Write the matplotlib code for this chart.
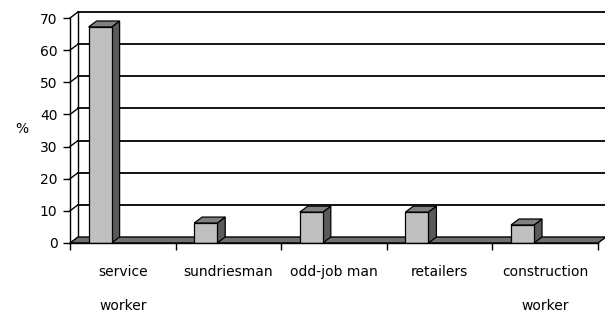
import matplotlib
matplotlib.use('Agg')
import matplotlib.pyplot as plt
from matplotlib.patches import Polygon
import numpy as np

categories = ['service\nworker', 'sundriesman', 'odd-job man', 'retailers', 'construction\nworker']
values = [67.2, 6.2, 9.6, 9.6, 5.6]
yticks = [0, 10, 20, 30, 40, 50, 60, 70]

plt.rcParams['font.family'] = 'DejaVu Sans'
plt.rcParams['font.size'] = 10

fig = plt.figure(figsize=(6.05, 3.13), dpi=100)
# axes = front plane of the 3d box
ax = fig.add_axes([70 / 605, 70 / 313, 528 / 605, 225 / 313])
n = len(categories)
x = np.arange(n)
ax.set_xlim(-0.5, n - 0.5)
ax.set_ylim(0, 70)

# depth offset (8 px right, 6 px up) in data units
p0 = ax.transData.transform((0, 0))
dx, dy = ax.transData.inverted().transform(p0 + np.array([8, 6]))

# back wall gridlines + side wall diagonals
for v in yticks[1:]:
    ax.plot([-0.5 + dx, n - 0.5 + dx], [v + dy, v + dy], c='k', lw=1.3, zorder=1, clip_on=False)
    ax.plot([-0.5, -0.5 + dx], [v, v + dy], c='k', lw=1.0, zorder=1, clip_on=False)
ax.plot([-0.5 + dx, -0.5 + dx], [dy, 70 + dy], c='k', lw=1.0, zorder=1, clip_on=False)

# floor
floor = Polygon([(-0.5, 0), (n - 0.5, 0), (n - 0.5 + dx, dy), (-0.5 + dx, dy)],
                closed=True, fc='#707070', ec='k', lw=1.0, zorder=2, clip_on=False)
ax.add_patch(floor)

# bars
w = 0.218
off = -0.215
for xi, v in zip(x, values):
    l = xi + off - w / 2
    r = xi + off + w / 2
    side = Polygon([(r, 0), (r, v), (r + dx, v + dy), (r + dx, dy)],
                   closed=True, fc='#5a5a5a', ec='k', lw=0.9, zorder=3, clip_on=False)
    top = Polygon([(l, v), (r, v), (r + dx, v + dy), (l + dx, v + dy)],
                  closed=True, fc='#808080', ec='k', lw=0.9, zorder=3, clip_on=False)
    ax.add_patch(side)
    ax.add_patch(top)
ax.bar(x + off, values, width=w, color='#c0c0c0', edgecolor='k', lw=0.9, zorder=4)

ax.spines['top'].set_visible(False)
ax.spines['right'].set_visible(False)
ax.spines['left'].set_linewidth(1.0)
ax.spines['bottom'].set_linewidth(1.0)
ax.spines['left'].set_zorder(5)
ax.spines['bottom'].set_zorder(5)

ax.set_yticks(yticks)
ax.tick_params(axis='y', direction='out', length=5, width=1.0, pad=4, labelsize=10)
ax.set_xticks(x)
ax.set_xticklabels(categories, linespacing=2.8)
ax.set_xticks(np.arange(n + 1) - 0.5, minor=True)
ax.tick_params(axis='x', which='major', length=0, pad=16, labelsize=10)
ax.tick_params(axis='x', which='minor', direction='out', length=5, width=1.0)

fig.text(22 / 605, 1 - 129 / 313, '%', ha='center', va='center', fontsize=10)

fig.savefig('out.png', dpi=100)
